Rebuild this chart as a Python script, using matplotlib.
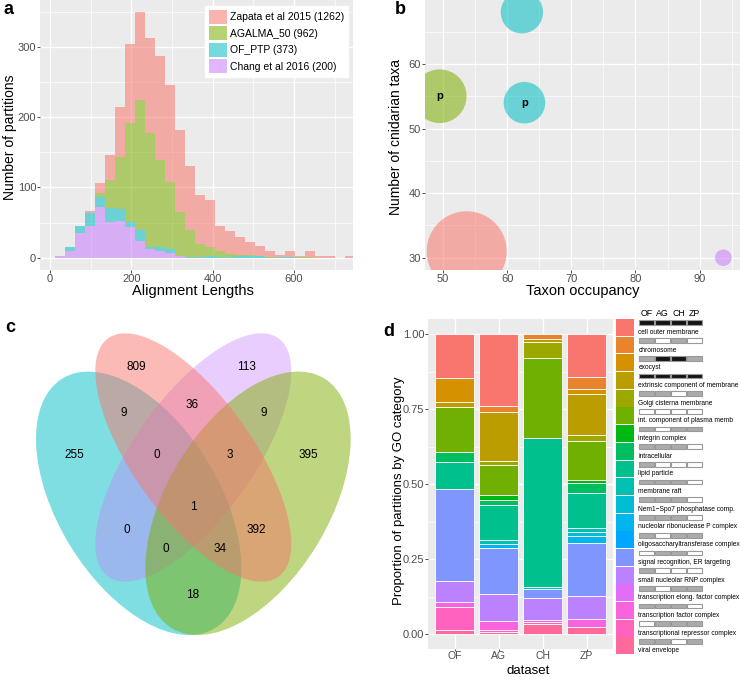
import numpy as np
import matplotlib
matplotlib.use("Agg")
import matplotlib.pyplot as plt
from matplotlib.patches import Ellipse, Rectangle, Patch
from matplotlib.ticker import MultipleLocator, FormatStrFormatter

plt.rcParams['font.family'] = ['Liberation Sans', 'DejaVu Sans']

W, H = 740, 677
GREY_BG = '#EBEBEB'
TICK_COL = '#4D4D4D'

# ---------------- a: alignment lengths (stacked histogram, counts per bin)
hist_series = ['Zapata et al 2015 (1262)', 'AGALMA_50 (962)', 'OF_PTP (373)', 'Chang et al 2016 (200)']
bin_start = 12.3
bin_width = 24.6
zapata_counts = [0, 0, 0, 2, 14, 35, 72, 113, 125, 134, 148, 139, 116, 91, 70,
                 67, 36, 33, 25, 18, 13, 8, 3, 8, 1, 9, 2, 2, 0, 2]
agalma_counts = [0, 0, 0, 0, 5, 41, 74, 140, 184, 163, 124, 94, 63, 38, 18,
                 13, 8, 4, 1, 1, 1, 1, 0, 0, 1, 1, 0, 0, 0, 0]
ofptp_counts = [0, 5, 10, 19, 15, 19, 17, 8, 16, 3, 5, 7, 0, 1, 1,
                2, 1, 1, 3, 3, 2, 0, 1, 1, 0, 0, 0, 0, 0, 0]
chang_counts = [2, 10, 35, 45, 72, 51, 52, 43, 24, 12, 10, 6, 2, 0, 0,
                0, 0, 0, 0, 0, 0, 0, 0, 0, 0, 0, 0, 0, 0, 0]

# ---------------- b: taxon occupancy vs cnidarian taxa
bubble_dataset = [0, 1, 2, 2, 3]          # index into hist_series colours
bubble_occupancy = [53.7, 49.5, 62.7, 62.3, 93.7]
bubble_cnidaria = [31, 55, 54, 68, 30]
bubble_area = [100, 45, 27, 28, 4.3]
bubble_label = ['', 'p', 'p', '', '']

# ---------------- c: venn counts
venn_counts = [809, 113, 9, 36, 9, 255, 0, 3, 395, 1, 0, 392, 0, 34, 18]

# ---------------- d: GO category proportions
datasets = ['OF', 'AG', 'CH', 'ZP']
go_categories = ['cell outer membrane', 'chromosome', 'exocyst',
                 'extrinsic component of membrane', 'Golgi cisterna membrane',
                 'int. component of plasma memb', 'integrin complex', 'intracellular',
                 'lipid particle', 'membrane raft', 'Nem1\u2212Spo7 phosphatase comp.',
                 'nucleolar ribonuclease P complex', 'oligosaccharyltransferase complex',
                 'signal recognition, ER targeting', 'small nucleolar RNP complex',
                 'transcription elong. factor complex', 'transcription factor complex',
                 'transcriptional repressor complex', 'viral envelope']
prop_OF = [0.145, 0, 0.080, 0.017, 0, 0.152, 0, 0.034, 0.088, 0, 0, 0, 0,
           0.306, 0.070, 0, 0.018, 0.075, 0.015]
prop_AG = [0.240, 0.020, 0, 0.162, 0.016, 0.097, 0.017, 0.017, 0.116, 0.014, 0,
           0.014, 0, 0.154, 0.091, 0, 0.027, 0.008, 0.007]
prop_CH = [0, 0.017, 0, 0.011, 0.051, 0.269, 0, 0, 0.494, 0, 0.008, 0, 0,
           0.030, 0.073, 0, 0.007, 0.006, 0.034]
prop_ZP = [0.143, 0.040, 0.017, 0.137, 0.019, 0.130, 0.009, 0.035, 0.116, 0.015,
           0.013, 0.021, 0, 0.179, 0.075, 0, 0.029, 0, 0.022]
go_flags = ['KKKK', 'GWGW', 'GKKG', 'KKKK', 'GGWG', 'WWWW', 'GWGG', 'GGGW', 'GWWW',
            'GGGW', 'GGGW', 'GGGW', 'GWGG', 'WGGW', 'GWWW', 'GWGG', 'GGGW', 'WGGG', 'GGWG']


def hue_pal(n, l=65.0, c=100.0):
    # ggplot2 default hue palette (hcl -> sRGB)
    hues = np.linspace(15, 375, n + 1)[:n]
    Xn, Yn, Zn = 95.047, 100.0, 108.883
    un = 4 * Xn / (Xn + 15 * Yn + 3 * Zn)
    vn = 9 * Yn / (Xn + 15 * Yn + 3 * Zn)
    M = np.array([[3.2404542, -1.5371385, -0.4985314],
                  [-0.9692660, 1.8760108, 0.0415560],
                  [0.0556434, -0.2040259, 1.0572252]])
    cols = []
    for h in hues:
        u = c * np.cos(np.radians(h))
        v = c * np.sin(np.radians(h))
        Y = Yn * ((l + 16) / 116) ** 3
        up = u / (13 * l) + un
        vp = v / (13 * l) + vn
        X = Y * 9 * up / (4 * vp)
        Z = Y * (12 - 3 * up - 20 * vp) / (4 * vp)
        rgb = M @ (np.array([X, Y, Z]) / 100)
        rgb = np.where(rgb <= 0.0031308, 12.92 * rgb, 1.055 * np.abs(rgb) ** (1 / 2.4) - 0.055)
        cols.append(tuple(np.clip(rgb, 0, 1)))
    return cols


def gg_axes(ax):
    ax.set_facecolor(GREY_BG)
    for s in ax.spines.values():
        s.set_visible(False)
    ax.grid(True, which='major', color='white', lw=1.0)
    ax.grid(True, which='minor', color='white', lw=0.5)
    ax.set_axisbelow(True)
    ax.tick_params(which='major', length=2.0, width=0.6, color='#333333',
                   labelsize=8, labelcolor=TICK_COL, pad=0.8)
    ax.tick_params(which='minor', length=0)


def px_axes(x0, y0, x1, y1):
    return fig.add_axes([x0 / W, 1 - y1 / H, (x1 - x0) / W, (y1 - y0) / H])


pal4 = hue_pal(4)
fig = plt.figure(figsize=(W / 100, H / 100), dpi=100)

# ---------------- panel a
ax = px_axes(40, 0, 353.3, 270)
gg_axes(ax)
left = bin_start + bin_width * np.arange(len(zapata_counts))
bottom = np.zeros(len(left))
for counts, col in [(chang_counts, pal4[3]), (ofptp_counts, pal4[2]),
                    (agalma_counts, pal4[1]), (zapata_counts, pal4[0])]:
    ax.bar(left, counts, width=bin_width, bottom=bottom, align='edge',
           color=col, alpha=0.55, lw=0)
    bottom += np.array(counts)
ax.set_xlim(-24.6, 746)
ax.set_ylim(-17.5, 366.5)
ax.xaxis.set_major_locator(MultipleLocator(200))
ax.xaxis.set_minor_locator(MultipleLocator(100))
ax.yaxis.set_major_locator(MultipleLocator(100))
ax.yaxis.set_minor_locator(MultipleLocator(50))
ax.set_xlabel('Alignment Lengths', fontsize=10.5)
ax.set_ylabel('Number of partitions', fontsize=10)
ax.xaxis.set_label_coords(0.488, -0.052)
ax.yaxis.set_label_coords(-0.073, 0.49)
handles = [Patch(facecolor=pal4[i], alpha=0.55, lw=0) for i in range(4)]
ax.legend(handles, hist_series, loc='upper right', bbox_to_anchor=(0.984, 0.978),
          borderaxespad=0, fontsize=7.5, handlelength=1.75, handleheight=1.75,
          labelspacing=0.2, handletextpad=0.35, borderpad=0.35,
          fancybox=False, framealpha=1, edgecolor='white')

# ---------------- panel b
ax = px_axes(425, 0, 740, 270)
gg_axes(ax)
ax.scatter(bubble_occupancy, bubble_cnidaria, s=np.array(bubble_area) * 33.2,
           c=[pal4[i] for i in bubble_dataset], alpha=0.55, lw=0)
for x, y, t in zip(bubble_occupancy, bubble_cnidaria, bubble_label):
    ax.text(x, y, t, fontsize=8, fontweight='bold', ha='center', va='center')
ax.set_xlim(47.2, 96.3)
ax.set_ylim(28.1, 69.9)
ax.xaxis.set_major_locator(MultipleLocator(10))
ax.xaxis.set_minor_locator(MultipleLocator(5))
ax.yaxis.set_major_locator(MultipleLocator(10))
ax.yaxis.set_minor_locator(MultipleLocator(5))
ax.set_xlabel('Taxon occupancy', fontsize=10.5)
ax.set_ylabel('Number of cnidarian taxa', fontsize=10)
ax.xaxis.set_label_coords(0.502, -0.052)
ax.yaxis.set_label_coords(-0.07, 0.494)

# ---------------- panel c (venn)
ax = px_axes(0, 300, 370, 677)
ax.set_xlim(0, 370)
ax.set_ylim(677, 300)
ax.axis('off')
venn_shapes = [  # centre x, centre y, major, minor, angle, colour, alpha
    (138.7, 503.3, 292.6, 161.2, 58.6, pal4[2], 0.5),
    (193.3, 457.5, 293.0, 119.6, 125.5, pal4[3], 0.38),
    (248.0, 503.3, 292.6, 161.2, 121.4, pal4[1], 0.5),
    (193.3, 457.5, 293.0, 119.6, 54.5, pal4[0], 0.5),
]
for cx, cy, a, b, ang, col, al in venn_shapes:
    ax.add_patch(Ellipse((cx, cy), a, b, angle=ang, facecolor=col, alpha=al, lw=0))
venn_label_xy = [(136, 367), (246, 367), (124, 413), (192.3, 404.5), (263.3, 413),
                 (74, 455), (156.7, 455), (230, 455), (308.3, 455), (193.3, 507),
                 (127.3, 530), (256.7, 530), (166, 548.5), (220, 548.5), (192.7, 595)]
for (x, y), n in zip(venn_label_xy, venn_counts):
    ax.text(x, y, str(n), fontsize=8.5, ha='center', va='center',
            family=['Liberation Sans Narrow', 'Liberation Sans', 'DejaVu Sans'])

# ---------------- panel d
go_cols = hue_pal(len(go_categories))
ax = px_axes(428.3, 319, 613, 649)
gg_axes(ax)
ax.tick_params(axis='x', labelsize=7.5, pad=0.3, length=1.2)
xpos = np.arange(1, len(datasets) + 1)
props = np.array([prop_OF, prop_AG, prop_CH, prop_ZP])   # dataset x category
for i, d in enumerate(datasets):
    base = 0.0
    for k in range(len(go_categories) - 1, -1, -1):   # first category on top
        v = props[i, k]
        if v > 0:
            ax.bar(xpos[i], v, bottom=base, width=0.88, color=go_cols[k],
                   edgecolor='white', lw=0.6)
        base += v
ax.set_xticks(xpos)
ax.set_xticklabels(datasets)
ax.set_xlim(0.4, 4.6)
ax.set_ylim(-0.05, 1.05)
ax.yaxis.set_major_locator(MultipleLocator(0.25))
ax.yaxis.set_minor_locator(MultipleLocator(0.125))
ax.yaxis.set_major_formatter(FormatStrFormatter('%.2f'))
ax.set_xlabel('dataset', fontsize=9.5, va='bottom')
ax.set_ylabel('Proportion of partitions by GO category', fontsize=9.5)
ax.xaxis.set_label_coords(0.54, -(677 - 0.5 - 649) / 330)
ax.yaxis.set_label_coords(-0.126, 0.48)

# custom legend for panel d
ax = px_axes(600, 300, 740, 677)
ax.set_xlim(600, 740)
ax.set_ylim(677, 300)
ax.axis('off')
flag_col = {'K': '#151515', 'G': '#ABABAB', 'W': 'white'}
key_top, pitch = 318.5, 17.7
for i, (name, col, flags) in enumerate(zip(go_categories, go_cols, go_flags)):
    y0 = key_top + pitch * i
    ax.add_patch(Rectangle((616, y0 + 0.4), 18, pitch - 0.8, facecolor=col, lw=0))
    for j, f in enumerate(flags):
        ax.add_patch(Rectangle((638.8 + 16.0 * j, y0 + 1.9), 15.3, 4.8,
                               facecolor=flag_col[f], edgecolor='#999999', lw=0.8))
    ax.text(638.5, y0 + 13.8, name, fontsize=4.75, ha='left', va='center')
for j, d in enumerate(datasets):
    ax.text(646.5 + 16.0 * j, 313.5, d, fontsize=6.3, ha='center', va='center')

# panel letters
for letter, x, y in [('a', 4, 10), ('b', 395, 10), ('c', 5, 328), ('d', 383, 332)]:
    fig.text(x / W, 1 - y / H, letter, fontsize=13, fontweight='bold', ha='left', va='center')

fig.savefig('out.png', dpi=100)
